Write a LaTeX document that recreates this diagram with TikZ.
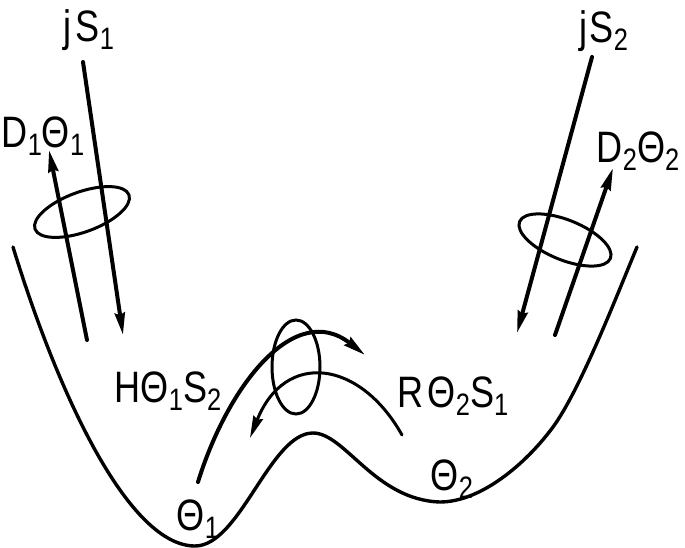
\documentclass[tikz,border=0pt]{standalone}
\usepackage{fontspec}
\setmainfont{Liberation Sans}[FakeStretch=0.82]
\usetikzlibrary{arrows.meta}
\newcommand{\lo}[1]{\raisebox{-8pt}{\fontsize{31}{31}\selectfont #1}}
\begin{document}
\begin{tikzpicture}[x=1pt,y=-1pt,
  lbl/.style={font=\fontsize{44}{44}\selectfont, anchor=base, inner sep=0pt},
  well/.style={line width=3.4pt, line cap=round},
  ring/.style={line width=3pt},
  thin/.style={line width=3pt, line cap=round},
  arr/.style={line width=4pt, line cap=round, -{Stealth[length=22pt,width=10pt,inset=2pt]}}
]
\useasboundingbox (0,0) rectangle (685,548);

% potential well
\draw[well] (13,247) .. controls (60,400) and (130,546) .. (195,546)
  .. controls (240,546) and (270,433) .. (313,433)
  .. controls (345,433) and (375,500) .. (440,502)
  .. controls (480,502) and (525,465) .. (553,427)
  .. controls (580,390) and (615,300) .. (637,247);

% labels
\node[lbl] (jS1) at (89,42) {j\hspace{4pt}S\lo{1}};
\node[lbl] (jS2) at (604,43) {j\hspace{2pt}S\lo{2}};
\node[lbl] (D1) at (43,148) {D\lo{1}Θ\lo{1}};
\node[lbl] (D2) at (638,163) {D\lo{2}Θ\lo{2}};
\node[lbl] (H) at (168,402) {HΘ\lo{1}S\lo{2}};
\node[lbl] (R) at (453,407) {R\hspace{4pt}Θ\lo{2}S\lo{1}};
\node[lbl] (T1) at (198,530) {Θ\lo{1}};
\node[lbl] (T2) at (452,490) {Θ\lo{2}};

% left arrows
\coordinate (a1s) at (83,62);  \coordinate (a1e) at (123,335);
\coordinate (a2s) at (87,340); \coordinate (a2e) at (49,150);
\draw[arr] (a1s) -- (a1e);
\draw[arr] (a2s) -- (a2e);
\draw[ring, rotate around={20:(82,212)}] (82,212) ellipse [x radius=50pt, y radius=20pt];

% right arrows
\coordinate (b1s) at (592,57);  \coordinate (b1e) at (517,333);
\coordinate (b2s) at (555,335); \coordinate (b2e) at (613,168);
\draw[arr] (b1s) -- (b1e);
\draw[arr] (b2s) -- (b2e);
\draw[ring, rotate around={-22:(565,240)}] (565,240) ellipse [x radius=49pt, y radius=20pt];

% barrier crossing arrows
\coordinate (c1s) at (198,482); \coordinate (c1e) at (365,355);
\coordinate (c2s) at (402,435); \coordinate (c2e) at (250,438);
\draw[arr] (c1s) .. controls (228,385) and (295,300) .. (c1e);
\draw[thin, -{Stealth[length=22pt,width=10pt,inset=2pt]}] (c2s) .. controls (360,360) and (285,350) .. (c2e);
\draw[ring] (296,367) ellipse [x radius=24pt, y radius=47pt];
\end{tikzpicture}
\end{document}
